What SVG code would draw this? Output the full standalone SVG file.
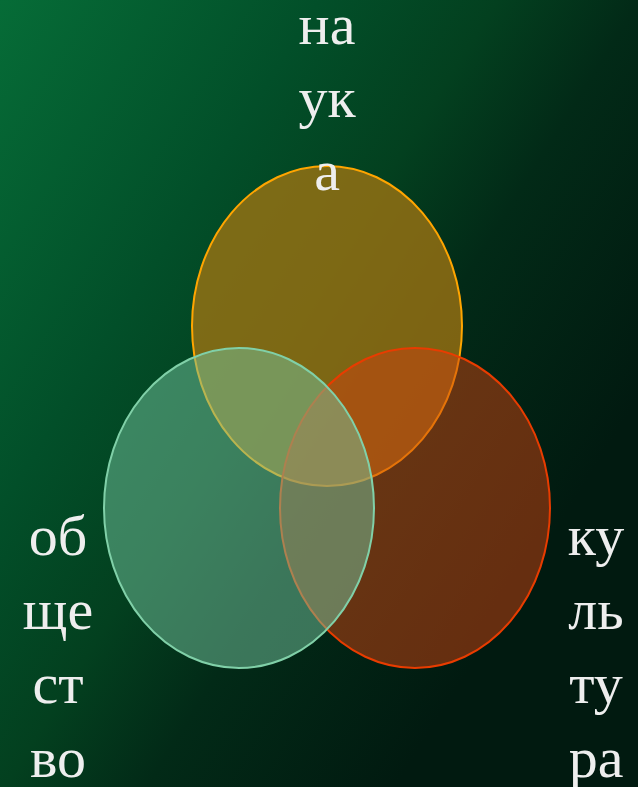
<svg xmlns="http://www.w3.org/2000/svg" width="638" height="787" viewBox="0 0 638 787">
<defs>
<linearGradient id="bg" gradientUnits="userSpaceOnUse" x1="0" y1="0" x2="638" y2="400">
<stop offset="0" stop-color="#066c37"/>
<stop offset="0.36" stop-color="#024f29"/>
<stop offset="0.56" stop-color="#03401f"/>
<stop offset="0.72" stop-color="#022a17"/>
<stop offset="1" stop-color="#011a10"/>
</linearGradient>
<style>
.t{font-family:"Liberation Serif","Times New Roman",serif;font-size:58px;fill:#eeeeee;text-anchor:middle}
</style>
</defs>
<rect x="0" y="0" width="638" height="787" fill="url(#bg)"/>
<g id="nauka">
<ellipse cx="327" cy="326" rx="135" ry="160" fill="#a07512" fill-opacity="0.78" stroke="#ffa500" stroke-width="2"/>
</g>
<g id="kultura">
<ellipse cx="415" cy="508" rx="135" ry="160" fill="#cc4210" fill-opacity="0.5" stroke="#e83c00" stroke-width="2"/>
</g>
<g id="obshchestvo">
<ellipse cx="239" cy="508" rx="135" ry="160" fill="#74c39e" fill-opacity="0.5" stroke="#80d0a8" stroke-width="2"/>
</g>
<g id="labels">
<text class="t" x="327" y="44">на</text>
<text class="t" x="327" y="117">ук</text>
<text class="t" x="327" y="190">а</text>
<text class="t" x="58" y="555">об</text>
<text class="t" x="58" y="629">ще</text>
<text class="t" x="58" y="703">ст</text>
<text class="t" x="58" y="777">во</text>
<text class="t" x="596" y="555">ку</text>
<text class="t" x="596" y="629">ль</text>
<text class="t" x="596" y="703">ту</text>
<text class="t" x="596" y="777">ра</text>
</g>
</svg>
